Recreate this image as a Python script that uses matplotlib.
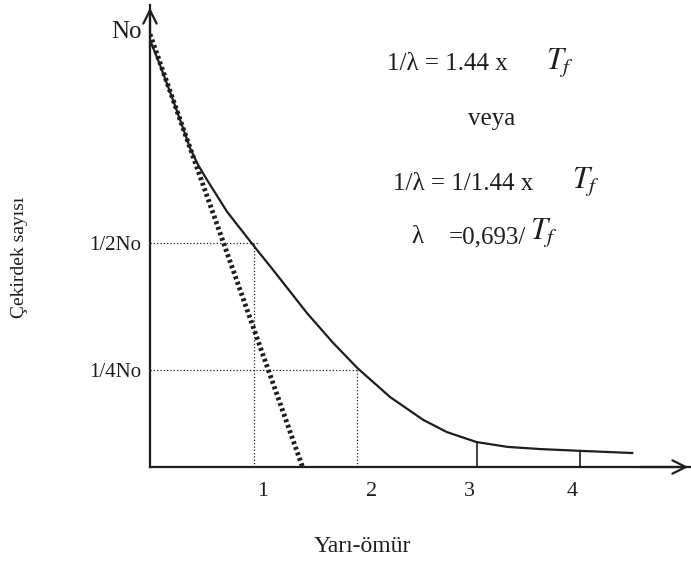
import numpy as np
import matplotlib.pyplot as plt

plt.rcParams['font.family'] = ['Liberation Serif', 'DejaVu Serif']
plt.rcParams['mathtext.fontset'] = 'stix'

# decay curve (x in half-lives, y as fraction of No)
curve_x = [0.0, 0.097, 0.223, 0.388, 0.46, 0.553, 0.748, 1.0, 1.194, 1.524, 1.777,
           2.01, 2.33, 2.65, 2.88, 3.17, 3.47, 3.79, 4.17, 4.68]
curve_y = [0.977, 0.920, 0.840, 0.730, 0.694, 0.657, 0.584, 0.508, 0.451, 0.352, 0.284,
           0.227, 0.160, 0.108, 0.080, 0.057, 0.046, 0.041, 0.037, 0.032]

# initial slope (tangent) line
tangent_x = [0.0, 1.48]
tangent_y = [0.99, 0.0]

# dotted guide lines
half_x, half_y = 1.01, 0.513
quarter_x, quarter_y = 2.01, 0.222
mark_x = [3.17, 4.17]
mark_y = [0.057, 0.037]

ytick_pos = [0.222, 0.513, 1.0]
ytick_lbl = ['1/4No', '1/2No', 'No']
xtick_pos = [1.09, 2.15, 3.1, 4.1]
xtick_lbl = ['1', '2', '3', '4']

ink = '#1e1e1e'

fig = plt.figure(figsize=(6.91, 5.63), dpi=100)
ax = fig.add_axes([150 / 691, 96 / 563, 541 / 691, 462 / 563])
ax.set_xlim(0, 5.25)
ax.set_ylim(0, 1.057)

ax.plot(curve_x, curve_y, color=ink, lw=1.6)
ax.plot(tangent_x, tangent_y, color=ink, lw=3.5, ls=(0, (0.6, 0.6)))

ax.plot([0, half_x + 0.04], [half_y, half_y], color=ink, lw=0.9, ls=':')
ax.plot([half_x, half_x], [0, half_y], color=ink, lw=0.9, ls=':')
ax.plot([0, quarter_x], [quarter_y, quarter_y], color=ink, lw=0.9, ls=':')
ax.plot([quarter_x, quarter_x], [0, quarter_y], color=ink, lw=0.9, ls=':')
for mx, my in zip(mark_x, mark_y):
    ax.plot([mx, mx], [0, my], color=ink, lw=1.2)

for s in ['top', 'right']:
    ax.spines[s].set_visible(False)
for s in ['left', 'bottom']:
    ax.spines[s].set_linewidth(1.6)
    ax.spines[s].set_color(ink)

# arrow heads at axis ends
ax.annotate('', xy=(0, 1.0), xytext=(0, 0.9), xycoords='axes fraction',
            arrowprops=dict(arrowstyle='->', color=ink, lw=1.6, mutation_scale=24))
ax.annotate('', xy=(1.0, 0), xytext=(0.9, 0), xycoords='axes fraction',
            arrowprops=dict(arrowstyle='->', color=ink, lw=1.6, mutation_scale=24))

ax.set_yticks(ytick_pos)
ax.set_yticklabels(ytick_lbl, fontsize=15, color=ink)
ax.get_yticklabels()[2].set_fontsize(18)
ax.set_xticks(xtick_pos)
ax.set_xticklabels(xtick_lbl, fontsize=16, color=ink)
ax.tick_params(axis='x', length=0, pad=11)
ax.tick_params(axis='y', length=0, pad=6)

fig.text(362 / 691, 1 - 547 / 563, 'Yarı-ömür', fontsize=17, color=ink,
         ha='center', va='center')
fig.text(20 / 691, 1 - 257 / 563, 'Çekirdek sayısı', fontsize=14, color=ink,
         rotation=90, ha='center', va='center')

fs = 18
fig.text(387 / 691, 1 - 64 / 563, '1/λ = 1.44 x', fontsize=fs, color=ink, va='center')
fig.text(546 / 691, 1 - 62 / 563, r'$T_f$', fontsize=22, color=ink, va='center')
fig.text(492 / 691, 1 - 119 / 563, 'veya', fontsize=fs, color=ink, va='center', ha='center')
fig.text(393 / 691, 1 - 184 / 563, '1/λ = 1/1.44 x', fontsize=fs, color=ink, va='center')
fig.text(572 / 691, 1 - 181 / 563, r'$T_f$', fontsize=22, color=ink, va='center')
fig.text(411 / 691, 1 - 237 / 563, 'λ', fontsize=fs, color=ink, va='center')
fig.text(449 / 691, 1 - 237 / 563, '=0,693/', fontsize=fs, color=ink, va='center')
fig.text(530 / 691, 1 - 233 / 563, r'$T_f$', fontsize=22, color=ink, va='center')

fig.savefig('out.png', dpi=100)
